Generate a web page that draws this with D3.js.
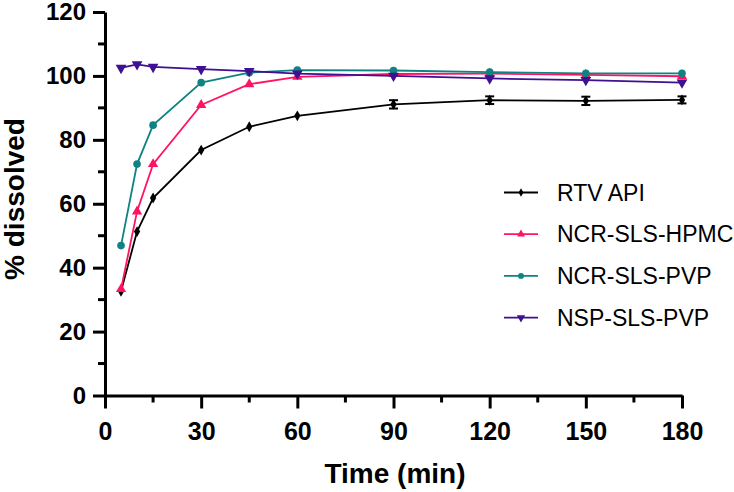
<!DOCTYPE html>
<html>
<head>
<meta charset="utf-8">
<script src="https://cdn.jsdelivr.net/npm/d3@7"></script>
<style>
  body { margin: 0; background: #fff; }
  text { font-family: "Liberation Sans", Arial, sans-serif; }
</style>
</head>
<body>
<div id="chart"></div>
<script>
// Dissolution data
const times = [5, 10, 15, 30, 45, 60, 90, 120, 150, 180];
const rtvApi = [32.6, 51.3, 61.8, 76.8, 84.1, 87.5, 91.1, 92.4, 92.2, 92.5];
const rtvErr = [0, 0, 0, 0, 0, 0, 1.3, 1.2, 1.3, 1.1];
const ncrHpmc = [33.3, 57.6, 72.4, 90.9, 97.4, 99.7, 100.6, 100.7, 100.3, 99.9];
const ncrPvp = [46.9, 72.4, 84.6, 97.9, 101.0, 101.8, 101.7, 101.2, 100.8, 100.8];
const nspPvp = [102.5, 103.6, 102.8, 102.1, 101.5, 100.7, 100.0, 99.2, 98.7, 97.9];
const seriesNames = ["RTV API", "NCR-SLS-HPMC", "NCR-SLS-PVP", "NSP-SLS-PVP"];
const seriesColors = ["#000000", "#ff1464", "#108282", "#3f1090"];
const xTicks = [0, 30, 60, 90, 120, 150, 180];
const yTicks = [0, 20, 40, 60, 80, 100, 120];

const series = [
  { name: seriesNames[0], values: rtvApi, err: rtvErr, color: seriesColors[0], symbol: d3.symbolDiamond, size: 34 },
  { name: seriesNames[1], values: ncrHpmc, err: null, color: seriesColors[1], symbol: d3.symbolTriangle, size: 46 },
  { name: seriesNames[2], values: ncrPvp, err: null, color: seriesColors[2], symbol: d3.symbolCircle, size: 46 },
  { name: seriesNames[3], values: nspPvp, err: null, color: seriesColors[3], symbol: d3.symbolTriangle, size: 50, flip: true }
];

const W = 734, H = 492;
const margin = { top: 12, right: 52, bottom: 96.5, left: 105 };
const width = W - margin.left - margin.right;
const height = H - margin.top - margin.bottom;

const svg = d3.select("#chart").append("svg")
  .attr("width", W).attr("height", H);
const g = svg.append("g").attr("transform", `translate(${margin.left},${margin.top})`);

const x = d3.scaleLinear().domain([0, 180]).range([0, width]);
const y = d3.scaleLinear().domain([0, 120]).range([height, 0]);

// minor ticks
g.append("g").selectAll("line")
  .data(d3.range(15, 180, 30))
  .join("line")
  .attr("x1", d => x(d)).attr("x2", d => x(d))
  .attr("y1", height).attr("y2", height + 7)
  .attr("stroke", "#000").attr("stroke-width", 3);
g.append("g").selectAll("line")
  .data(d3.range(10, 120, 20))
  .join("line")
  .attr("y1", d => y(d)).attr("y2", d => y(d))
  .attr("x1", 0).attr("x2", -7)
  .attr("stroke", "#000").attr("stroke-width", 3);

// X axis
const xAxis = g.append("g")
  .attr("transform", `translate(0,${height})`)
  .call(d3.axisBottom(x).tickValues(xTicks).tickSize(13).tickPadding(14).tickSizeOuter(0));
xAxis.select(".domain").attr("stroke-width", 3);
xAxis.selectAll(".tick line").attr("stroke-width", 3);
xAxis.selectAll("text")
  .style("font-size", "25px").style("font-weight", "bold").attr("fill", "#000");

// Y axis
const yAxis = g.append("g")
  .call(d3.axisLeft(y).tickValues(yTicks).tickSize(12).tickPadding(7).tickSizeOuter(0));
yAxis.select(".domain").attr("stroke-width", 3);
yAxis.selectAll(".tick line").attr("stroke-width", 3);
yAxis.selectAll("text")
  .style("font-size", "24px").style("font-weight", "bold").attr("fill", "#000");

// Axis titles
svg.append("text")
  .attr("x", 395).attr("y", 483)
  .attr("text-anchor", "middle")
  .style("font-size", "28px").style("font-weight", "bold")
  .text("Time (min)");
svg.append("text")
  .attr("transform", "translate(24,199) rotate(-90)")
  .attr("text-anchor", "middle")
  .style("font-size", "28px").style("font-weight", "bold")
  .text("% dissolved");

const line = d3.line().x(d => x(d[0])).y(d => y(d[1]));

series.forEach(s => {
  const pts = times.map((t, i) => [t, s.values[i], s.err ? s.err[i] : 0]);
  const sg = g.append("g");
  sg.append("path")
    .attr("d", line(pts))
    .attr("fill", "none").attr("stroke", s.color).attr("stroke-width", 1.8);
  // error bars (only the visible ones)
  const eb = sg.selectAll(".err").data(pts.filter(p => p[2] > 0)).join("g");
  eb.append("line")
    .attr("x1", d => x(d[0])).attr("x2", d => x(d[0]))
    .attr("y1", d => y(d[1] - d[2])).attr("y2", d => y(d[1] + d[2]))
    .attr("stroke", s.color).attr("stroke-width", 1.8);
  [-1, 1].forEach(k => {
    eb.append("line")
      .attr("x1", d => x(d[0]) - 4.5).attr("x2", d => x(d[0]) + 4.5)
      .attr("y1", d => y(d[1] + k * d[2])).attr("y2", d => y(d[1] + k * d[2]))
      .attr("stroke", s.color).attr("stroke-width", 2);
  });
  sg.selectAll(".pt").data(pts).join("path")
    .attr("d", d3.symbol().type(s.symbol).size(s.size))
    .attr("transform", d => `translate(${x(d[0])},${y(d[1])})${s.flip ? " rotate(180)" : ""}`)
    .attr("fill", s.color);
});

// Legend
const legend = svg.append("g");
series.forEach((s, i) => {
  const ly = 192.5 + i * 41.7;
  legend.append("line")
    .attr("x1", 504).attr("x2", 538).attr("y1", ly).attr("y2", ly)
    .attr("stroke", s.color).attr("stroke-width", 1.8);
  legend.append("path")
    .attr("d", d3.symbol().type(s.symbol).size(s.size * 0.6))
    .attr("transform", `translate(521,${ly})${s.flip ? " rotate(180)" : ""}`)
    .attr("fill", s.color);
  legend.append("text")
    .attr("x", 557).attr("y", ly).attr("dy", "0.36em")
    .style("font-size", "23px")
    .text(s.name);
});
</script>
</body>
</html>
